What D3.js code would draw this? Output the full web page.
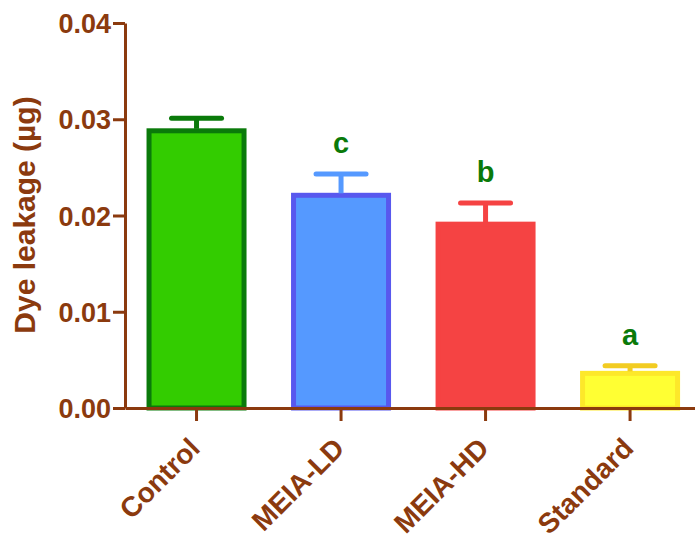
<!DOCTYPE html>
<html>
<head>
<script src="https://d3js.org/d3.v7.min.js"></script>
<style>
  body { margin: 0; background: #fff; }
  text { font-family: 'Liberation Sans', Arial, sans-serif; font-weight: bold; }
</style>
</head>
<body>
<div id="chart"></div>
<script>
// data
var groups = ["Control", "MEIA-LD", "MEIA-HD", "Standard"];
var means  = [0.0288, 0.0221, 0.0191, 0.0036];
var sems   = [0.0013, 0.0022, 0.0022, 0.0008];
var marks  = ["", "c", "b", "a"];
var yTicks = [0.00, 0.01, 0.02, 0.03, 0.04];

var fills   = ["#33cc00", "#5599ff", "#f54343", "#ffff33"];
var borders = ["#0a7a0a", "#5858ee", "#f54343", "#fde82a"];
var errCols = ["#0a7a0a", "#5599ff", "#f54343", "#f2cc22"];
var axisCol = "#8b3a0e";

var width = 695, height = 538;
var x0 = 125, y0 = 408, yTop = 23;

var svg = d3.select("#chart").append("svg")
    .attr("width", width)
    .attr("height", height);

var y = d3.scaleLinear().domain([0, 0.04]).range([y0, yTop]);
var x = d3.scaleBand().domain(groups)
    .range([x0, 701.6])
    .paddingInner(0.308)
    .paddingOuter(0.149);

// bars
svg.selectAll("rect.bar")
    .data(groups)
    .enter().append("rect")
    .attr("class", "bar")
    .attr("x", function(d) { return x(d) + 2.5; })
    .attr("width", x.bandwidth() - 5)
    .attr("y", function(d, i) { return y(means[i]); })
    .attr("height", function(d, i) { return y0 - y(means[i]); })
    .attr("fill", function(d, i) { return fills[i]; })
    .attr("stroke", function(d, i) { return borders[i]; })
    .attr("stroke-width", 5);

// error bars
var eb = svg.selectAll("g.err")
    .data(groups)
    .enter().append("g")
    .attr("class", "err")
    .attr("stroke", function(d, i) { return errCols[i]; })
    .attr("stroke-width", 5)
    .attr("stroke-linecap", "round");

eb.append("line")
    .attr("x1", function(d) { return x(d) + x.bandwidth() / 2; })
    .attr("x2", function(d) { return x(d) + x.bandwidth() / 2; })
    .attr("y1", function(d, i) { return y(means[i]) - 2; })
    .attr("y2", function(d, i) { return y(means[i] + sems[i]); })
    .attr("stroke-linecap", "butt");

eb.append("line")
    .attr("x1", function(d) { return x(d) + x.bandwidth() / 2 - 25; })
    .attr("x2", function(d) { return x(d) + x.bandwidth() / 2 + 25; })
    .attr("y1", function(d, i) { return y(means[i] + sems[i]); })
    .attr("y2", function(d, i) { return y(means[i] + sems[i]); });

// significance letters
svg.selectAll("text.mark")
    .data(groups)
    .enter().append("text")
    .attr("class", "mark")
    .attr("x", function(d) { return x(d) + x.bandwidth() / 2; })
    .attr("y", function(d, i) { return y(means[i] + sems[i]) - 21; })
    .attr("text-anchor", "middle")
    .attr("fill", "#0a7a0a")
    .style("font-size", "29px")
    .text(function(d, i) { return marks[i]; });

// y axis
var yAxis = svg.append("g")
    .attr("transform", "translate(" + x0 + ",0)")
    .call(d3.axisLeft(y).tickValues(yTicks).tickFormat(d3.format(".2f")).tickSize(12).tickSizeOuter(0));

// x axis
var xAxis = svg.append("g")
    .attr("transform", "translate(0," + y0 + ")")
    .call(d3.axisBottom(x).tickSize(13).tickSizeOuter(0));

[yAxis, xAxis].forEach(function(a) {
  a.select(".domain").attr("stroke", axisCol).attr("stroke-width", 3);
  a.selectAll(".tick line").attr("stroke", axisCol).attr("stroke-width", 3);
  a.selectAll(".tick text").attr("fill", axisCol).style("font-size", "27px");
});
yAxis.selectAll(".tick text").attr("x", -14).attr("dy", "0.36em");

xAxis.selectAll(".tick text")
    .attr("text-anchor", "end")
    .attr("dy", 0)
    .attr("y", 0)
    .style("font-size", "28px")
    .attr("transform", "translate(5,42) rotate(-45)");

// y axis label
svg.append("text")
    .attr("transform", "translate(35,215) rotate(-90)")
    .attr("text-anchor", "middle")
    .attr("fill", axisCol)
    .style("font-size", "30px")
    .text("Dye leakage (µg)");
</script>
</body>
</html>
